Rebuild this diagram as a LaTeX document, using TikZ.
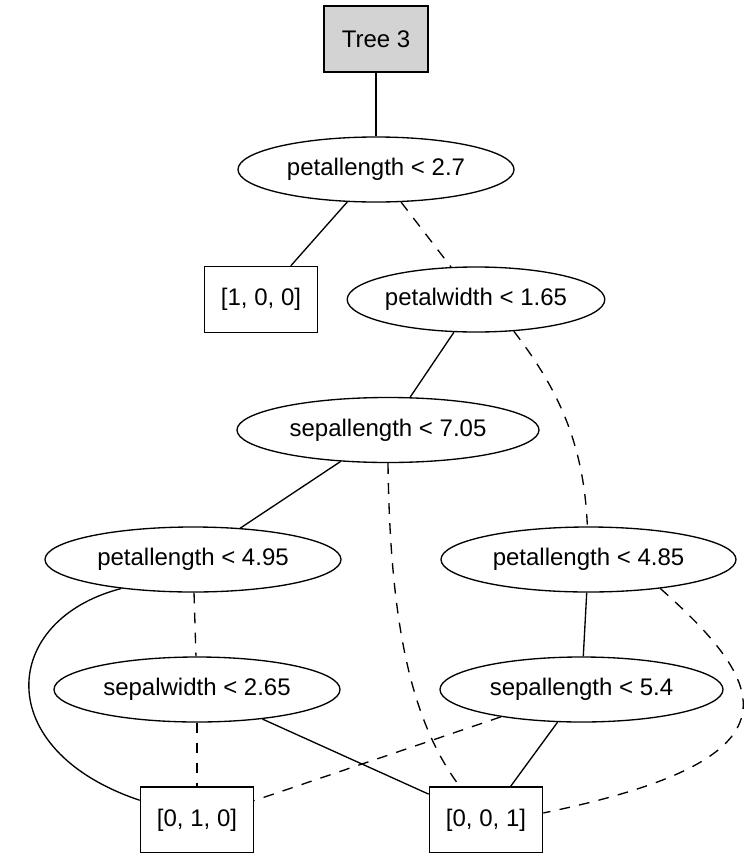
\documentclass[tikz,border=0pt]{standalone}
\usepackage{fontspec}
\setmainfont{Liberation Sans}
\usetikzlibrary{shapes.geometric}
\begin{document}
\begin{tikzpicture}[x=0.75pt,y=-0.75pt,
  every node/.style={font=\fontsize{18}{20}\selectfont, inner sep=0pt, line width=1pt, draw=black},
  test/.style={ellipse, minimum height=48.75pt},
  leaf/.style={rectangle, minimum width=85pt, minimum height=49.5pt},
  yes/.style={line width=1pt},
  no/.style={line width=1pt, dash pattern=on 8pt off 7pt}]
\useasboundingbox (0,0) rectangle (748,853);

% root label and split nodes
\node[rectangle, fill={rgb,255:red,211;green,211;blue,211}, minimum width=78pt, minimum height=49.5pt] (root) at (376,39) {Tree 3};
\node[test, minimum width=207pt] (pl27) at (376,169.5) {petallength < 2.7};
\node[leaf] (l100) at (261,299.5) {[1, 0, 0]};
\node[test, minimum width=190.5pt] (pw165) at (476,299.5) {petalwidth < 1.65};
\node[test, minimum width=226.5pt] (sl705) at (388,430) {sepallength < 7.05};
\node[test, minimum width=222pt] (pl495) at (193,559.5) {petallength < 4.95};
\node[test, minimum width=214.5pt] (sw265) at (197,689.5) {sepalwidth < 2.65};
\node[test, minimum width=221.25pt] (pl485) at (588.5,559.5) {petallength < 4.85};
\node[test, minimum width=212.25pt] (sl54) at (581.5,689.5) {sepallength < 5.4};
\node[leaf] (l010) at (197,820) {[0, 1, 0]};
\node[leaf] (l001) at (486,820) {[0, 0, 1]};

% branches: solid = condition holds, dashed = condition fails
\draw[yes] (root) -- (pl27);
\draw[yes] (pl27) -- (l100);
\draw[no]  (pl27) -- (pw165);
\draw[yes] (pw165) -- (sl705);
\draw[no]  (pw165.-40) .. controls (555,385) and (584,440) .. (pl485.92);
\draw[yes] (sl705) -- (pl495);
\draw[no]  (sl705.south) .. controls (390,620) and (410,720) .. (l001.128);
\draw[yes] (pl495.202) .. controls (0,620) and (-10,750) .. (l010.161);
\draw[no]  (pl495) -- (sw265);
\draw[no]  (sw265) -- (l010);
\draw[yes] (sw265) -- (l001);
\draw[yes] (pl485) -- (sl54);
\draw[no]  (pl485.-22) .. controls (775,690) and (800,760) .. (l001.7);
\draw[no]  (sl54) -- (l010);
\draw[yes] (sl54) -- (l001);
\end{tikzpicture}
\end{document}
